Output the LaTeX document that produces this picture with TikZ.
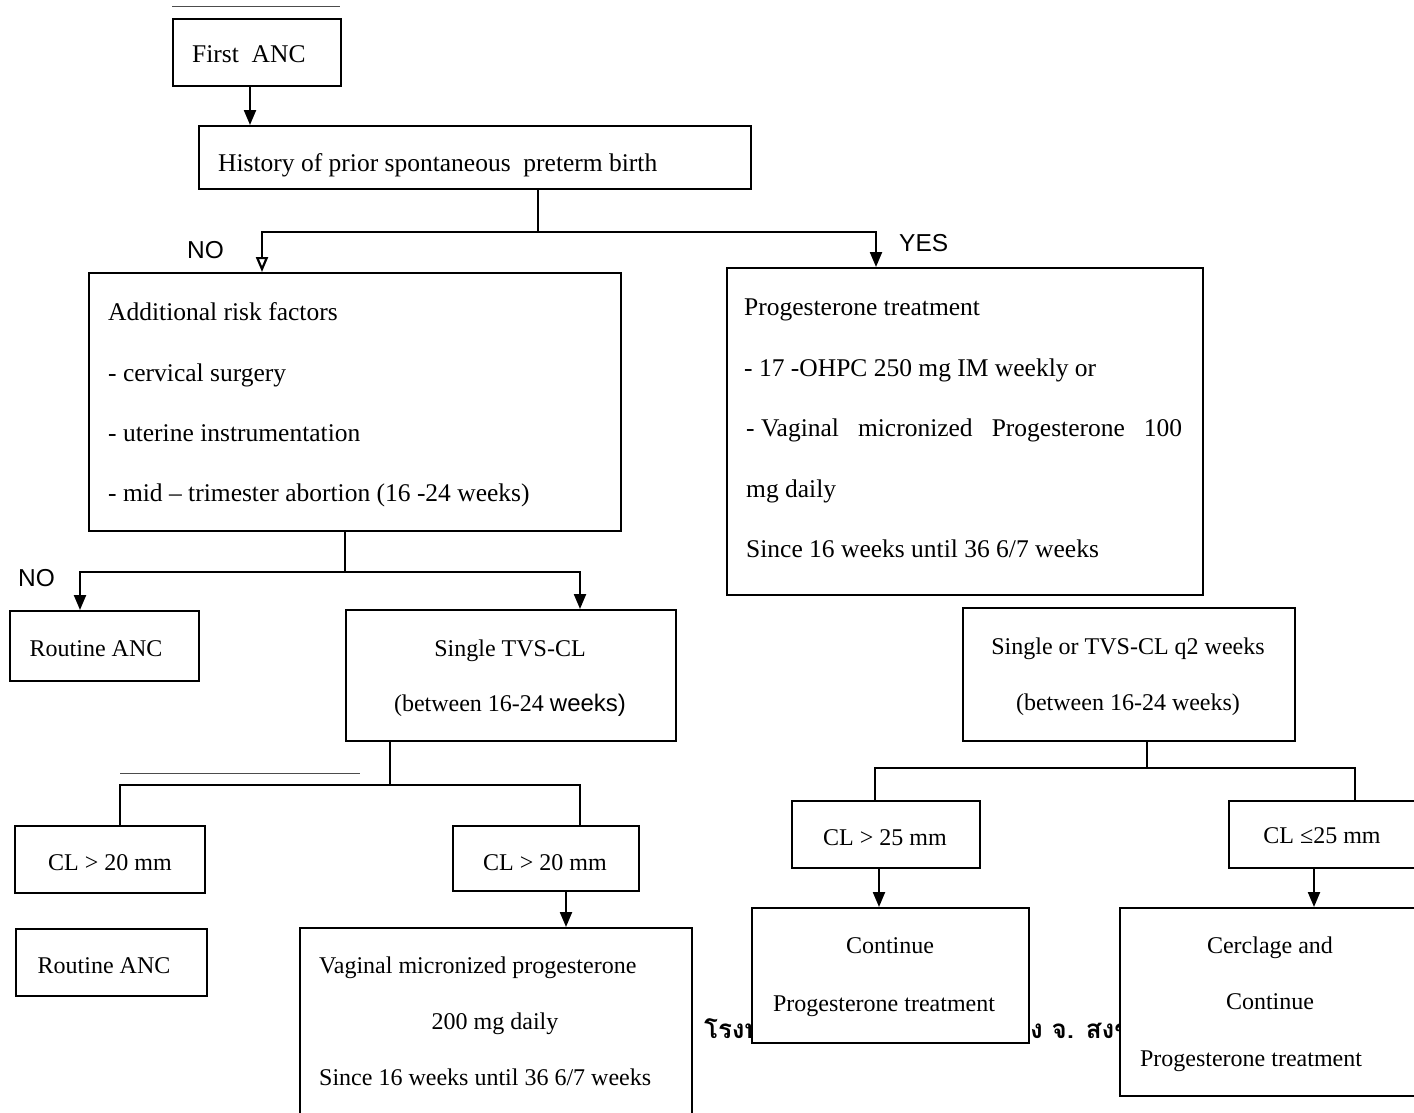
\documentclass[tikz,border=0pt]{standalone}
\usepackage{fontspec}
\setmainfont{Liberation Serif}
\newfontfamily\sansfont{Liberation Sans}
\newfontfamily\thaifont[Script=Thai]{Loma}
\usetikzlibrary{arrows.meta}
\begin{document}
\begin{tikzpicture}[x=1pt,y=-1pt,
  box/.style={draw, line width=2.2pt, fill=white, anchor=north west, inner sep=0pt},
  txt/.style={inner sep=0pt, font=\fontsize{25.5}{30}\selectfont},
  txts/.style={inner sep=0pt, font=\fontsize{24}{28}\selectfont},
  lbl/.style={inner sep=0pt, font=\sansfont\fontsize{24.5}{30}\selectfont},
  stamp/.style={inner sep=0pt, font=\thaifont\bfseries\fontsize{26}{30}\selectfont},
  link/.style={line width=2.2pt},
  arr/.style={line width=2.2pt, -{Triangle[length=15pt,width=12pt]}},
  oarr/.style={line width=2.2pt, -{Triangle[open,length=15pt,width=12pt]}},
  faint/.style={line width=1pt, black!70}]
\fill[white] (0,0) rectangle (1414,1112);
\useasboundingbox (0,0) rectangle (1414,1112);
\clip (0,0) rectangle (1414,1112);

% stamp text partly covered by the boxes below
\node[stamp, anchor=base east] (stampl) at (762,1038) {โรงพ};
\node[stamp, anchor=base west] (stampr) at (1030,1038) {ง จ. สงข};

% boxes
\node[box, minimum width=168, minimum height=67] (first) at (172,18) {};
\node[box, minimum width=552, minimum height=63] (hist) at (198,125) {};
\node[box, minimum width=532, minimum height=258] (risk) at (88,272) {};
\node[box, minimum width=476, minimum height=327] (prog) at (726,267) {};
\node[box, minimum width=189, minimum height=70] (rout1) at (9,610) {};
\node[box, minimum width=330, minimum height=131] (tvs) at (345,609) {};
\node[box, minimum width=332, minimum height=133] (tvsq) at (962,607) {};
\node[box, minimum width=190, minimum height=67] (cla) at (14,825) {};
\node[box, minimum width=186, minimum height=65] (clb) at (452,825) {};
\node[box, minimum width=191, minimum height=67] (rout2) at (15,928) {};
\node[box, minimum width=392, minimum height=200] (vag) at (299,927) {};
\node[box, minimum width=188, minimum height=67] (clc) at (791,800) {};
\node[box, minimum width=200, minimum height=67] (cld) at (1228,800) {};
\node[box, minimum width=277, minimum height=135] (cont) at (751,907) {};
\node[box, minimum width=310, minimum height=188] (cerc) at (1119,907) {};

% texts
\node[txt, anchor=base west] at (192,62) {First\ \ ANC};
\node[txt, anchor=base west] at (218,171) {History of prior spontaneous\ \ preterm birth};
\node[lbl, anchor=base west] (no1) at (187,258) {NO};
\node[lbl, anchor=base west] (yes1) at (899,251) {YES};
\node[txt, anchor=base west] at (108,320) {Additional risk factors};
\node[txt, anchor=base west] at (108,381) {- cervical surgery};
\node[txt, anchor=base west] at (108,441) {- uterine instrumentation};
\node[txt, anchor=base west] at (108,501) {- mid -- trimester abortion (16 -24 weeks)};
\node[txt, anchor=base west] at (744,315) {Progesterone treatment};
\node[txt, anchor=base west] at (744,376) {- 17 -OHPC 250 mg IM weekly or};
\node[txt, anchor=base west] at (746,436) {\makebox[436pt][s]{- Vaginal\hfill micronized\hfill Progesterone\hfill 100}};
\node[txt, anchor=base west] at (746,497) {mg daily};
\node[txt, anchor=base west] at (746,557) {Since 16 weeks until 36 6/7 weeks};
\node[lbl, anchor=base west] (no2) at (18,586) {NO};
\node[txts, anchor=base] at (96,656) {Routine ANC};
\node[txts, anchor=base] at (510,656) {Single TVS-CL};
\node[txts, anchor=base] at (510,711) {(between 16-24 {\sansfont weeks)}};
\node[txts, anchor=base] at (1128,654) {Single or TVS-CL q2 weeks};
\node[txts, anchor=base] at (1128,710) {(between 16-24 weeks)};
\node[txts, anchor=base] at (110,870) {CL > 20 mm};
\node[txts, anchor=base] at (545,870) {CL > 20 mm};
\node[txts, anchor=base] at (104,973) {Routine ANC};
\node[txts, anchor=base west] at (319,973) {Vaginal micronized progesterone};
\node[txts, anchor=base] at (495,1029) {200 mg daily};
\node[txts, anchor=base west] at (319,1085) {Since 16 weeks until 36 6/7 weeks};
\node[txts, anchor=base] at (885,845) {CL > 25 mm};
\node[txts, anchor=base] at (1322,843) {CL ≤25 mm};
\node[txts, anchor=base] at (890,953) {Continue};
\node[txts, anchor=base] at (884,1011) {Progesterone treatment};
\node[txts, anchor=base] at (1270,953) {Cerclage and};
\node[txts, anchor=base] at (1270,1009) {Continue};
\node[txts, anchor=base] at (1251,1066) {Progesterone treatment};

% junction points
\coordinate (j1) at (538,232);
\coordinate (j2) at (345,572);
\coordinate (j3) at (390,785);
\coordinate (j4) at (1147,768);

% connectors
\draw[arr] (first.south -| 250,0) -- (hist.north -| 250,0);
\draw[link] (hist.south -| j1) -- (j1);
\draw[oarr] (j1) -| (risk.north -| 262,0);
\draw[arr] (j1) -| (prog.north -| 876,0);
\draw[link] (risk.south -| j2) -- (j2);
\draw[arr] (j2) -| (rout1.north -| 80,0);
\draw[arr] (j2) -| (tvs.north -| 580,0);
\draw[link] (tvs.south -| j3) -- (j3);
\draw[link] (j3) -| (cla.north -| 120,0);
\draw[link] (j3) -| (clb.north -| 580,0);
\draw[arr] (clb.south -| 566,0) -- (vag.north -| 566,0);
\draw[link] (tvsq.south -| j4) -- (j4);
\draw[link] (j4) -| (clc.north -| 875,0);
\draw[link] (j4) -| (cld.north -| 1355,0);
\draw[arr] (clc.south -| 879,0) -- (cont.north -| 879,0);
\draw[arr] (cld.south -| 1314,0) -- (cerc.north -| 1314,0);

% stray rules
\draw[faint] (172,6) -- (340,6);
\draw[faint] (120,773) -- (360,773);
\end{tikzpicture}
\end{document}
